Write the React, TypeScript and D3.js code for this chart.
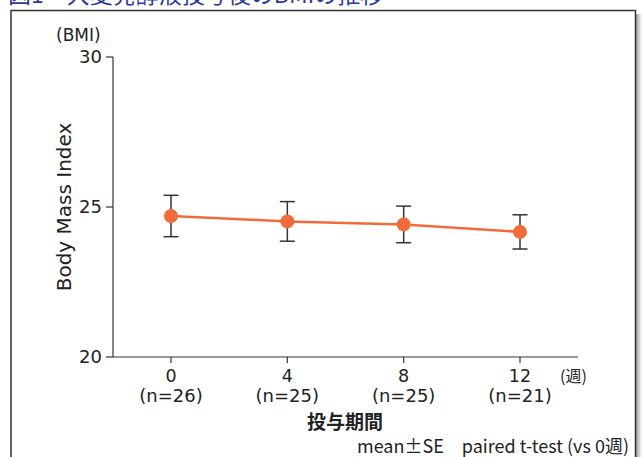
import React from "react";
import * as d3 from "d3";

const weeks = [0, 4, 8, 12];
const nLabels = ["(n=26)", "(n=25)", "(n=25)", "(n=21)"];
const bmiMean = [24.7, 24.52, 24.42, 24.17];
const bmiSE = [0.69, 0.66, 0.61, 0.57];
const yTicks = [20, 25, 30];

const jpFont = "'Noto Sans CJK JP', 'Noto Sans', sans-serif";
const latinFont = "'DejaVu Sans', 'Noto Sans', sans-serif";

const App = () => {
  const x = d3.scaleLinear().domain([0, 12]).range([171, 520]);
  const y = d3.scaleLinear().domain([20, 30]).range([357, 57]);
  const axisLeftX = 113;
  const axisRightX = 578;

  const line = d3
    .line<number>()
    .x((_, i) => x(weeks[i]))
    .y((d) => y(d));

  return (
    <svg
      width={642}
      height={457}
      style={{ position: "absolute", left: 0, top: 0, background: "#fff" }}
      fontFamily={jpFont}
    >
      <defs>
        <linearGradient id="shadow" x1="0" x2="1" y1="0" y2="0">
          <stop offset="0" stopColor="#9a9a9a" />
          <stop offset="1" stopColor="#ffffff" />
        </linearGradient>
      </defs>

      {/* title, cut off at the top */}
      <text x={8} y={2.5} fontSize={23} fill="#2b3a9c">
        図1　大麦発酵液投与後のBMIの推移
      </text>

      {/* frame + shadow */}
      <rect x={636} y={14} width={6} height={450} fill="url(#shadow)" />
      <rect x={11} y={10.5} width={624.5} height={460} fill="#fff" stroke="#333" strokeWidth={1.5} />

      {/* y axis */}
      <line x1={axisLeftX} x2={axisLeftX} y1={y(30)} y2={y(20)} stroke="#333" strokeWidth={1.2} />
      {yTicks.map((t) => (
        <g key={t}>
          <line x1={axisLeftX - 7} x2={axisLeftX} y1={y(t)} y2={y(t)} stroke="#333" strokeWidth={1.2} />
          <text
            x={axisLeftX - 11}
            y={y(t)}
            dy="0.36em"
            textAnchor="end"
            fontSize={18}
            fill="#222"
            fontFamily={latinFont}
          >
            {t}
          </text>
        </g>
      ))}
      <text x={56} y={41} fontSize={17} fill="#222" fontFamily={latinFont}>
        (BMI)
      </text>
      <text
        transform={`translate(71,${y(25)}) rotate(-90)`}
        textAnchor="middle"
        fontSize={20}
        fill="#222"
        fontFamily={latinFont}
      >
        Body Mass Index
      </text>

      {/* x axis */}
      <line x1={axisLeftX} x2={axisRightX} y1={y(20)} y2={y(20)} stroke="#333" strokeWidth={1.2} />
      {weeks.map((w, i) => (
        <g key={w} fontFamily={latinFont} fill="#222">
          <line x1={x(w)} x2={x(w)} y1={y(20)} y2={y(20) + 6} stroke="#333" strokeWidth={1.2} />
          <text x={x(w)} y={382} textAnchor="middle" fontSize={17.5}>
            {w}
          </text>
          <text x={x(w)} y={402} textAnchor="middle" fontSize={18}>
            {nLabels[i]}
          </text>
        </g>
      ))}
      <text x={560} y={382} fontSize={16} fill="#222">(週)</text>
      <text x={345} y={429} textAnchor="middle" fontSize={19} fontWeight="bold" fill="#222">
        投与期間
      </text>
      <text x={629} y={453} textAnchor="end" fontSize={18} fill="#222">
        mean±SE　paired t-test (vs 0週)
      </text>

      {/* error bars */}
      {bmiMean.map((m, i) => (
        <g key={i} stroke="#333" strokeWidth={1.5}>
          <line x1={x(weeks[i])} x2={x(weeks[i])} y1={y(m + bmiSE[i])} y2={y(m - bmiSE[i])} />
          <line x1={x(weeks[i]) - 7.5} x2={x(weeks[i]) + 7.5} y1={y(m + bmiSE[i])} y2={y(m + bmiSE[i])} />
          <line x1={x(weeks[i]) - 7.5} x2={x(weeks[i]) + 7.5} y1={y(m - bmiSE[i])} y2={y(m - bmiSE[i])} />
        </g>
      ))}

      {/* mean line + points */}
      <path d={line(bmiMean) ?? ""} fill="none" stroke="#f26b3a" strokeWidth={2.5} />
      {bmiMean.map((m, i) => (
        <circle key={i} cx={x(weeks[i])} cy={y(m)} r={7} fill="#f26b3a" />
      ))}
    </svg>
  );
};

export default App;
